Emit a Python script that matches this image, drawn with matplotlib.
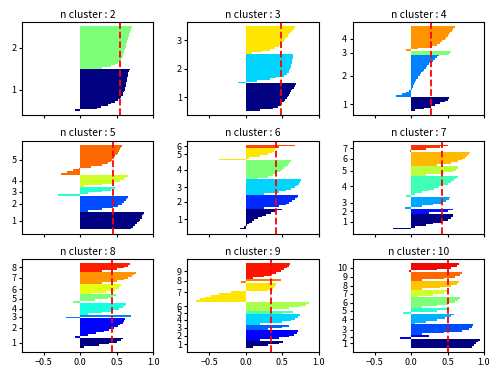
import matplotlib
matplotlib.use("Agg")
import matplotlib.pyplot as plt
from matplotlib import cm

plt.rcParams['font.family'] = ['Noto Sans CJK JP', 'DejaVu Sans']

# number of clusters per panel
n_clusters = [2, 3, 4, 5, 6, 7, 8, 9, 10]

# average silhouette score per panel (red dashed line)
silhouette_avg = [0.54, 0.48, 0.27, 0.45, 0.41, 0.42, 0.43, 0.35, 0.51]

# sorted silhouette values of each cluster
sil_2 = [
    [-0.07, 0.23, 0.29, 0.38, 0.42, 0.47, 0.51, 0.54, 0.56, 0.58, 0.59, 0.60, 0.61,
     0.615, 0.62, 0.625, 0.63, 0.635, 0.64, 0.645, 0.65, 0.655, 0.66, 0.67, 0.68],
    [0.30, 0.42, 0.48, 0.52, 0.54, 0.56, 0.57, 0.58, 0.59, 0.60, 0.605, 0.61, 0.62,
     0.625, 0.63, 0.64, 0.645, 0.65, 0.66, 0.665, 0.67, 0.68, 0.69, 0.70, 0.71],
]
sil_3 = [
    [0.20, 0.38, 0.44, 0.48, 0.50, 0.52, 0.54, 0.56, 0.58, 0.59, 0.61, 0.62, 0.64,
     0.66, 0.67, 0.69],
    [-0.11, 0.15, 0.33, 0.42, 0.52, 0.57, 0.59, 0.60, 0.61, 0.62, 0.625, 0.63, 0.635,
     0.64, 0.645, 0.65, 0.65],
    [0.08, 0.22, 0.33, 0.40, 0.45, 0.48, 0.50, 0.52, 0.54, 0.56, 0.58, 0.60, 0.62,
     0.64, 0.66, 0.67],
]
sil_4 = [
    [0.05, 0.18, 0.28, 0.33, 0.40, 0.46, 0.50, 0.52],
    [-0.20, -0.12, -0.07, -0.03, 0.01, 0.02, 0.03, 0.04, 0.05, 0.07, 0.09, 0.10,
     0.12, 0.14, 0.16, 0.18, 0.20, 0.22, 0.24, 0.27, 0.30, 0.33, 0.36, 0.38],
    [0.52, 0.55],
    [-0.07, 0.10, 0.28, 0.36, 0.40, 0.43, 0.46, 0.48, 0.50, 0.52, 0.54, 0.56, 0.58, 0.60],
]
sil_5 = [
    [0.70, 0.72, 0.75, 0.78, 0.80, 0.82, 0.84, 0.85, 0.86, 0.87],
    [0.10, 0.30, 0.45, 0.52, 0.57, 0.60, 0.62, 0.64, 0.66],
    [-0.31, 0.10, 0.30, 0.42, 0.48],
    [0.05, 0.30, 0.45, 0.55, 0.60, 0.63, 0.65],
    [-0.27, -0.18, -0.10, -0.02, 0.15, 0.30, 0.38, 0.42, 0.44, 0.46, 0.48, 0.50,
     0.52, 0.53, 0.54, 0.56, 0.57],
]
sil_6 = [
    [-0.08, -0.03, 0.02, 0.05, 0.08, 0.12, 0.17, 0.22, 0.28, 0.35, 0.42, 0.50],
    [0.25, 0.45, 0.55, 0.60, 0.64, 0.68, 0.70, 0.72],
    [0.25, 0.45, 0.55, 0.62, 0.67, 0.70, 0.73, 0.75, 0.76],
    [0.15, 0.30, 0.38, 0.43, 0.47, 0.50, 0.53, 0.55, 0.58, 0.60, 0.62],
    [-0.37, 0.05, 0.20, 0.30, 0.36, 0.39, 0.40],
    [0.45, 0.68],
]
sil_7 = [
    [-0.25, 0.05, 0.20, 0.30, 0.42, 0.50, 0.55, 0.57, 0.58],
    [0.25, 0.50, 0.57],
    [-0.09, 0.15, 0.30, 0.42, 0.48, 0.52, 0.54],
    [-0.07, 0.05, 0.15, 0.25, 0.32, 0.38, 0.44, 0.50, 0.55, 0.59, 0.62, 0.64],
    [0.20, 0.45, 0.57, 0.62, 0.64, 0.65],
    [0.35, 0.55, 0.65, 0.70, 0.74, 0.77, 0.79, 0.81],
    [-0.02, 0.20, 0.40, 0.50],
]
sil_8 = [
    [0.05, 0.25, 0.40, 0.50, 0.56, 0.59],
    [-0.07, 0.10, 0.22, 0.32, 0.40, 0.46, 0.51, 0.55, 0.58, 0.60, 0.61],
    [-0.19, 0.70],
    [0.10, 0.30, 0.45, 0.53, 0.58, 0.61, 0.62],
    [-0.10, 0.20, 0.38, 0.45, 0.49],
    [0.15, 0.35, 0.48, 0.53, 0.55, 0.56],
    [0.30, 0.50, 0.60, 0.66, 0.71, 0.74, 0.76],
    [0.30, 0.50, 0.60, 0.65, 0.68],
]
sil_9 = [
    [0.10, 0.30, 0.45, 0.51],
    [0.20, 0.45, 0.60, 0.66, 0.70, 0.72],
    [0.30, 0.50, 0.60],
    [0.20, 0.50, 0.62, 0.68, 0.72, 0.74],
    [0.50, 0.65],
    [0.35, 0.60, 0.75, 0.83, 0.87],
    [-0.68, -0.63, -0.56, -0.48, -0.36, -0.20, 0.30, 0.37, 0.39, 0.41, 0.42],
    [-0.07, 0.48],
    [0.10, 0.25, 0.35, 0.42, 0.48, 0.53, 0.57, 0.60, 0.61],
]
sil_10 = [
    [0.83, 0.86, 0.89, 0.92, 0.94],
    [-0.15, 0.25],
    [0.15, 0.45, 0.70, 0.80, 0.83, 0.85],
    [0.05, 0.20, 0.35, 0.47, 0.55, 0.59],
    [-0.11, 0.35, 0.50],
    [0.15, 0.35, 0.50, 0.60, 0.65, 0.67],
    [0.10, 0.30, 0.45, 0.51],
    [0.15, 0.40, 0.55, 0.63, 0.66],
    [0.15, 0.45, 0.60, 0.67, 0.70],
    [-0.03, 0.35, 0.55, 0.63, 0.66],
]

all_sil = [sil_2, sil_3, sil_4, sil_5, sil_6, sil_7, sil_8, sil_9, sil_10]

fig, axes = plt.subplots(3, 3, figsize=(5, 3.75), dpi=100, sharex=True)
fig.subplots_adjust(left=0.044, right=0.968, bottom=0.061, top=0.941,
                    wspace=0.26, hspace=0.27)

for ax, k, clusters, avg in zip(axes.flat, n_clusters, all_sil, silhouette_avg):
    y_lower = 0
    yticks = []
    for i, vals in enumerate(clusters):
        vals = sorted(vals)
        y_upper = y_lower + len(vals)
        ax.barh(range(y_lower, y_upper), vals, height=1.0, edgecolor='none',
                linewidth=0, color=cm.jet(float(i) / k))
        yticks.append((y_lower + y_upper - 1) / 2.)
        y_lower = y_upper
    ax.axvline(avg, color='red', linestyle='--', linewidth=1.3)
    ax.set_yticks(yticks)
    ax.set_yticklabels([str(c + 1) for c in range(k)])
    ax.set_title(f"n cluster : {k}", fontsize=7.5, pad=3)
    ax.tick_params(labelsize=6.5, length=2.5, pad=1.5)

axes[0, 0].set_xlim(-0.8, 1.0)
axes[0, 0].set_xticks([-0.5, 0.0, 0.5, 1.0])

fig.savefig("out.png")
